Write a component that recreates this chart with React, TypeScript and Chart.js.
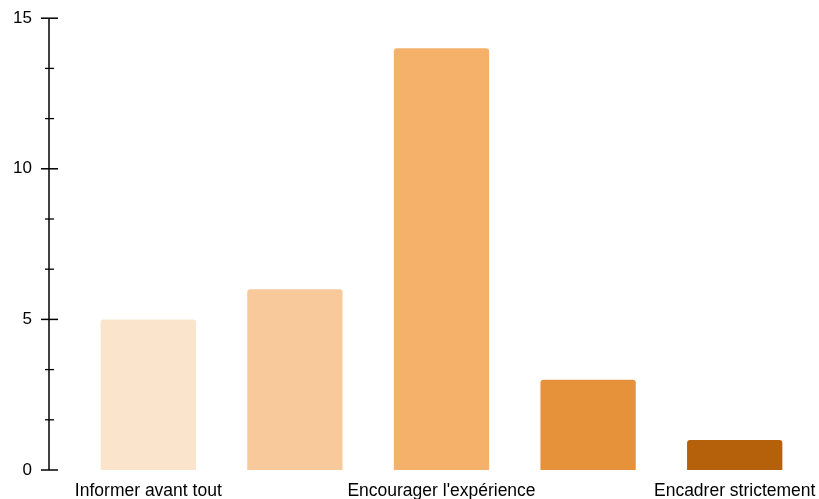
import React, { useEffect, useRef } from "react";
import { Chart, registerables } from "chart.js";

Chart.register(...registerables);

const categories = [
  "Informer avant tout",
  "Accompagner",
  "Encourager l'expérience",
  "Réguler",
  "Encadrer strictement",
];
const values = [5, 6, 14, 3, 1];
const barColors = ["#FAE4CC", "#F8CA9B", "#F5B16A", "#E5923B", "#B5600A"];
const yMajorTicks = [0, 5, 10, 15];
const yMin = 0;
const yMax = 15;
const yMinorStep = 5 / 3;

const FONT = "Arial, 'Liberation Sans', sans-serif";

const axisPlugin = {
  id: "customYAxis",
  afterDraw(chart: any) {
    const y = chart.scales.y;
    const ctx = chart.ctx;
    const x = y.right - 26;
    ctx.save();
    ctx.strokeStyle = "#000";
    ctx.lineWidth = 1.5;
    ctx.beginPath();
    ctx.moveTo(x, y.getPixelForValue(yMax));
    ctx.lineTo(x, y.getPixelForValue(yMin));
    ctx.stroke();
    y.ticks.forEach((t: any) => {
      const major = yMajorTicks.some((m) => Math.abs(m - t.value) < 1e-6);
      const py = y.getPixelForValue(t.value);
      ctx.beginPath();
      ctx.lineWidth = major ? 1.5 : 1.3;
      ctx.moveTo(x - (major ? 8 : 4), py);
      ctx.lineTo(x + (major ? 9 : 5), py);
      ctx.stroke();
    });
    ctx.restore();
  },
};

export default function App() {
  const ref = useRef<HTMLCanvasElement | null>(null);
  useEffect(() => {
    if (!ref.current) return;
    const chart = new Chart(ref.current, {
      type: "bar",
      data: {
        labels: categories,
        datasets: [
          {
            data: values,
            backgroundColor: barColors,
            borderRadius: 3,
            borderSkipped: "start",
            barPercentage: 0.65,
            categoryPercentage: 1,
          },
        ],
      },
      options: {
        animation: false,
        responsive: false,
        maintainAspectRatio: false,
        layout: { padding: { top: 18, right: 11, bottom: 0, left: 0 } },
        plugins: {
          legend: { display: false },
          tooltip: { enabled: false },
        },
        scales: {
          x: {
            grid: { display: false, drawTicks: false },
            border: { display: false },
            ticks: {
              color: "#000",
              font: { family: FONT, size: 17.5 },
              padding: 11,
              maxRotation: 0,
              autoSkip: false,
              callback: (v: any, i: number) => (i % 2 === 0 ? categories[i] : ""),
            },
            afterFit: (s: any) => {
              s.height = 29;
              s.paddingLeft = 0;
              s.paddingRight = 0;
            },
          },
          y: {
            min: yMin,
            max: yMax,
            grid: { display: false, drawTicks: true, tickLength: 35 },
            border: { display: false },
            afterBuildTicks: (s: any) => {
              const t = [];
              for (let i = 0; i <= 9; i++) t.push({ value: i * yMinorStep });
              s.ticks = t;
            },
            afterFit: (s: any) => {
              s.width = 75;
            },
            ticks: {
              color: "#000",
              font: { family: FONT, size: 17 },
              padding: 8,
              callback: (v: any) => {
                const n = Number(v);
                const m = yMajorTicks.find((k) => Math.abs(k - n) < 1e-6);
                return m === undefined ? "" : String(m);
              },
            },
          },
        },
      },
      plugins: [axisPlugin],
    });
    return () => chart.destroy();
  }, []);
  return (
    <div style={{ position: "absolute", left: 0, top: 0, width: 819, height: 499, background: "#fff" }}>
      <canvas ref={ref} width={819} height={499} style={{ width: 819, height: 499 }} />
    </div>
  );
}
